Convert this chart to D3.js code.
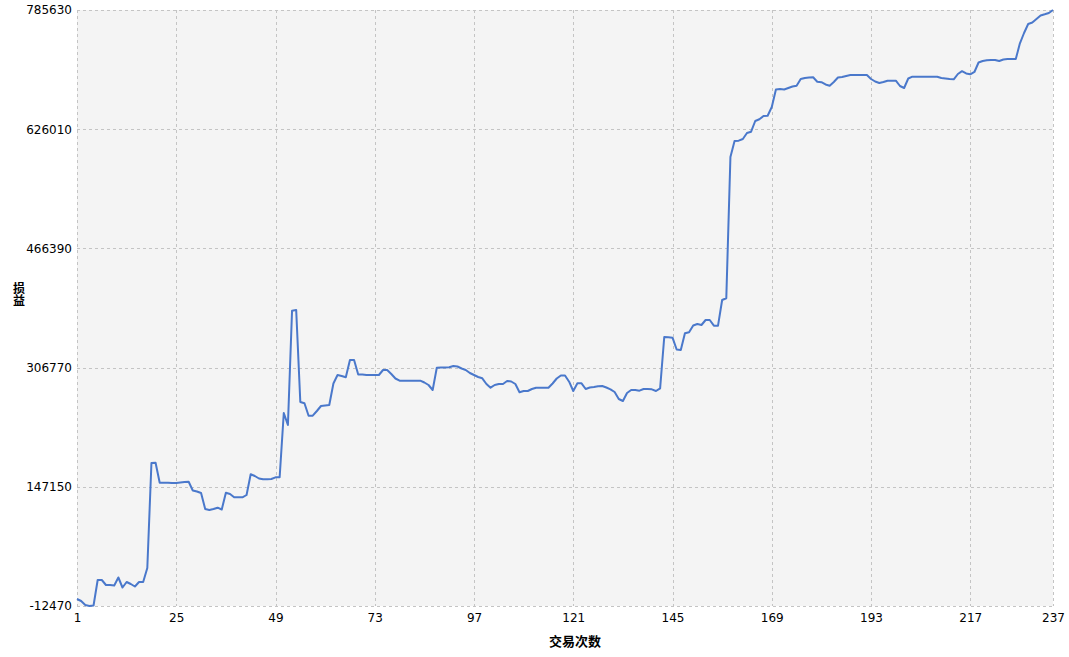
<!DOCTYPE html>
<html>
<head>
<meta charset="utf-8">
<script src="https://cdn.jsdelivr.net/npm/d3@7"></script>
<style>
  body { margin: 0; background: #fff; }
  text { font-family: "DejaVu Sans", sans-serif; }
</style>
</head>
<body>
<div id="chart"></div>
<script>
// P&L (损益) per trade number (交易次数)
var xTicks = [1, 25, 49, 73, 97, 121, 145, 169, 193, 217, 237];
var yTicks = [-12470, 147150, 306770, 466390, 626010, 785630];
var yLabel = "损益";
var xLabel = "交易次数";

var pnl = [
  -3100, -5780, -11140, -12470, -11800, 22340, 22340, 15650, 15650, 14980,
  25690, 12300, 19670, 16990, 13640, 19670, 19670, 38410, 179020, 179420,
  152640, 152640, 152640, 152240, 152240, 152910, 153580, 153980, 142190, 140850,
  138840, 117420, 116080, 117420, 119160, 116750, 139250, 137500, 133090, 133090,
  133090, 136170, 163890, 161610, 158260, 157190, 157190, 157590, 159870, 159870,
  245970, 229900, 382960, 383900, 260700, 258960, 242360, 242360, 248650, 255350,
  256020, 256690, 285480, 296860, 295520, 293780, 316950, 316950, 297530, 297530,
  296860, 296860, 296860, 296860, 303550, 303550, 298200, 292170, 289230, 289230,
  289230, 289230, 289230, 289230, 286820, 283470, 276770, 306630, 306900, 306900,
  307170, 308910, 308240, 305560, 303550, 299540, 296860, 294180, 292440, 284810,
  279850, 283470, 284810, 284810, 288820, 288150, 284810, 273690, 275430, 275430,
  278110, 279850, 279850, 279850, 279850, 285480, 292170, 296190, 296190, 287890,
  275430, 285740, 285740, 278110, 280120, 280790, 281730, 282130, 280120, 277710,
  274090, 264720, 262040, 272760, 276770, 276770, 275840, 278110, 278110, 277710,
  275430, 279050, 347740, 347340, 346810, 331010, 330340, 352700, 354040, 363140,
  365150, 363810, 370510, 370510, 362880, 362880, 397290, 399570, 588780, 610210,
  610610, 612890, 620920, 622660, 636990, 639270, 643690, 644090, 655740, 679170,
  679840, 679170, 681180, 683190, 684260, 693230, 694570, 695240, 695510, 689620,
  688950, 685870, 684260, 689220, 695240, 695910, 697250, 698590, 698590, 698590,
  698590, 698590, 693230, 689880, 687880, 689220, 690960, 690960, 690960, 683860,
  681180, 693900, 696310, 696310, 696310, 696310, 696310, 696310, 696310, 694570,
  693900, 693230, 692830, 699930, 703680, 700600, 699530, 702610, 715330, 717340,
  718410, 718680, 718680, 717340, 719350, 720010, 720010, 720010, 741040, 754830,
  766880, 768890, 773580, 778270, 779870, 781610, 785630
];

var margin = {top: 10, right: 16, bottom: 51, left: 77},
    width = 1069 - margin.left - margin.right,
    height = 657 - margin.top - margin.bottom;

var x = d3.scaleLinear()
    .domain([1, pnl.length])
    .range([0, width]);

var y = d3.scaleLinear()
    .domain([yTicks[0], yTicks[yTicks.length - 1]])
    .range([height, 0]);

var svg = d3.select("#chart").append("svg")
    .attr("width", 1069)
    .attr("height", 657)
  .append("g")
    .attr("transform", "translate(" + margin.left + "," + margin.top + ")");

svg.append("rect")
    .attr("width", width)
    .attr("height", height)
    .attr("fill", "#f4f4f4");

// grid
svg.append("g")
  .selectAll("line")
  .data(xTicks)
  .enter().append("line")
    .attr("x1", function(d) { return Math.round(x(d)) + 0.5; })
    .attr("x2", function(d) { return Math.round(x(d)) + 0.5; })
    .attr("y1", 0)
    .attr("y2", height)
    .attr("stroke", "#c4c4c4")
    .attr("stroke-dasharray", "3,3");

svg.append("g")
  .selectAll("line")
  .data(yTicks)
  .enter().append("line")
    .attr("x1", 0)
    .attr("x2", width)
    .attr("y1", function(d) { return Math.round(y(d)) + 0.5; })
    .attr("y2", function(d) { return Math.round(y(d)) + 0.5; })
    .attr("stroke", "#c4c4c4")
    .attr("stroke-dasharray", "3,3");

// axes (labels only, grid draws the lines)
var fmt = function(d) { return String(d); };
var xAxis = d3.axisBottom(x).tickValues(xTicks).tickSize(0).tickPadding(7).tickFormat(fmt);
var yAxis = d3.axisLeft(y).tickValues(yTicks).tickSize(0).tickPadding(5).tickFormat(fmt);

svg.append("g")
    .attr("transform", "translate(0," + height + ")")
    .call(xAxis)
    .call(function(g) { g.select(".domain").remove(); })
    .selectAll("text")
    .attr("font-size", 12)
    .attr("font-family", "DejaVu Sans, sans-serif")
    .attr("fill", "#000");

svg.append("g")
    .call(yAxis)
    .call(function(g) { g.select(".domain").remove(); })
    .selectAll("text")
    .attr("font-size", 12)
    .attr("font-family", "DejaVu Sans, sans-serif")
    .attr("fill", "#000");

svg.append("text")
    .attr("x", width / 2 + 10)
    .attr("y", height + 40)
    .attr("text-anchor", "middle")
    .attr("font-size", 13)
    .attr("font-weight", "bold")
    .style("font-family", "'Noto Sans CJK SC', sans-serif")
    .text(xLabel);

// vertical, upright y label
svg.append("text")
    .attr("x", -58)
    .attr("y", 284)
    .attr("text-anchor", "middle")
    .attr("font-size", 12)
    .attr("font-weight", "bold")
    .style("font-family", "'Noto Sans CJK SC', sans-serif")
    .style("writing-mode", "vertical-rl")
    .style("text-orientation", "upright")
    .text(yLabel);

var line = d3.line()
    .x(function(d, i) { return x(i + 1); })
    .y(function(d) { return y(d); });

svg.append("path")
    .datum(pnl)
    .attr("fill", "none")
    .attr("stroke", "#4a78cb")
    .attr("stroke-width", 2)
    .attr("stroke-linejoin", "round")
    .attr("d", line);
</script>
</body>
</html>
